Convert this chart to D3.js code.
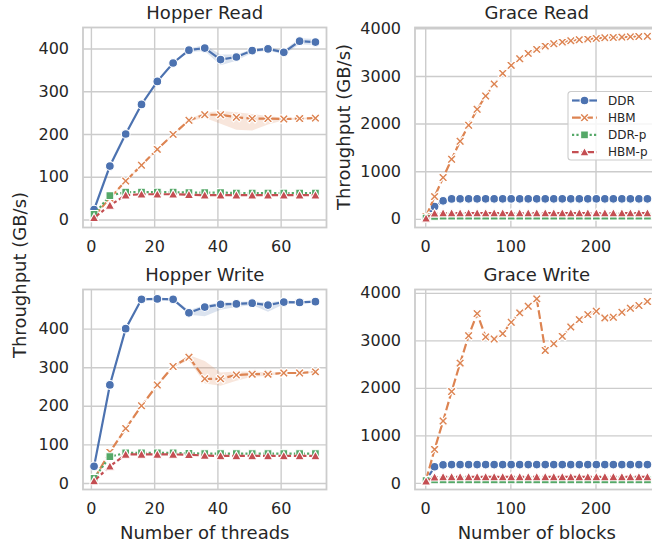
<!DOCTYPE html>
<html>
<head>
<meta charset="utf-8">
<script src="https://cdn.jsdelivr.net/npm/d3@7"></script>
<style>
  body { margin: 0; background: #fff; }
  text { font-family: "DejaVu Sans", sans-serif; fill: #262626; }
</style>
</head>
<body>
<svg id="chart"></svg>
<script>
// x values
var threads = [1, 6, 11, 16, 21, 26, 31, 36, 41, 46, 51, 56, 61, 66, 71];
var blocks = [1, 11, 21, 31, 41, 51, 61, 71, 81, 91, 101, 111, 121, 131, 141, 151, 161, 171, 181, 191, 201, 211, 221, 231, 241, 251, 261];

// Hopper read (GB/s)
var hopperReadDdr = [23, 125, 200, 269, 323, 366, 396, 401, 374, 380, 395, 399, 391, 417, 415];
var hopperReadDdrLo = [21, 123, 198, 267, 321, 364, 392, 394, 361, 371, 390, 395, 386, 410, 408];
var hopperReadDdrHi = [25, 127, 202, 271, 325, 368, 400, 408, 386, 386, 399, 403, 396, 424, 422];
var hopperReadHbm = [8, 50, 90, 127, 164, 199, 232, 245, 245, 239, 236, 236, 235, 236, 237];
var hopperReadHbmLo = [6, 48, 88, 125, 162, 197, 229, 238, 224, 210, 208, 222, 232, 234, 235];
var hopperReadHbmHi = [10, 52, 92, 129, 166, 201, 235, 250, 254, 251, 247, 242, 238, 238, 239];
var hopperReadDdrP = [12, 56, 64, 64, 64, 64, 63, 63, 63, 62, 62, 62, 62, 62, 62];
var hopperReadHbmP = [4, 33, 57, 59, 59, 59, 58, 57, 57, 57, 57, 57, 57, 57, 57];

// Hopper write (GB/s)
var hopperWriteDdr = [43, 254, 400, 476, 477, 476, 441, 456, 463, 464, 466, 461, 469, 468, 470];
var hopperWriteDdrLo = [41, 252, 398, 474, 475, 472, 436, 432, 449, 456, 461, 444, 463, 465, 467];
var hopperWriteDdrHi = [45, 256, 402, 478, 479, 479, 448, 461, 468, 469, 471, 468, 473, 471, 473];
var hopperWriteHbm = [10, 80, 141, 200, 254, 302, 326, 270, 270, 280, 282, 282, 285, 285, 288];
var hopperWriteHbmLo = [8, 78, 139, 198, 252, 300, 318, 258, 252, 265, 275, 278, 283, 283, 286];
var hopperWriteHbmHi = [12, 82, 143, 202, 256, 304, 332, 316, 286, 289, 289, 286, 287, 287, 290];
var hopperWriteDdrP = [12, 68, 78, 78, 78, 78, 77, 76, 76, 76, 76, 76, 76, 76, 76];
var hopperWriteHbmP = [5, 43, 74, 74, 74, 74, 73, 71, 70, 70, 70, 70, 70, 70, 70];

// Grace read (GB/s)
var graceReadDdr = [25, 258, 377, 418, 420, 421, 421, 421, 421, 421, 421, 421, 421, 421, 421, 421, 421, 421, 421, 421, 421, 421, 421, 421, 421, 421, 421];
var graceReadHbm = [50, 467, 866, 1251, 1629, 1964, 2299, 2579, 2830, 3054, 3222, 3361, 3473, 3557, 3627, 3676, 3711, 3738, 3760, 3774, 3788, 3801, 3808, 3815, 3822, 3829, 3832];
var graceReadDdrP = [15, 52, 55, 55, 55, 55, 55, 55, 55, 55, 55, 55, 55, 55, 55, 55, 55, 55, 55, 55, 55, 55, 55, 55, 55, 55, 55];
var graceReadHbmP = [10, 115, 120, 120, 120, 120, 120, 120, 120, 120, 120, 120, 120, 120, 120, 120, 120, 120, 120, 120, 120, 120, 120, 120, 120, 120, 120];

// Grace write (GB/s)
var graceWriteDdr = [50, 340, 380, 385, 386, 386, 386, 386, 386, 386, 386, 386, 386, 386, 386, 386, 386, 386, 386, 386, 386, 386, 386, 386, 386, 386, 386];
var graceWriteHbm = [60, 705, 1303, 1922, 2521, 3098, 3563, 3071, 3029, 3141, 3380, 3578, 3718, 3873, 2788, 2929, 3084, 3282, 3436, 3542, 3612, 3472, 3485, 3590, 3675, 3732, 3817];
var graceWriteDdrP = [50, 62, 65, 65, 65, 65, 65, 65, 65, 65, 65, 65, 65, 65, 65, 65, 65, 65, 65, 65, 65, 65, 65, 65, 65, 65, 65];
var graceWriteHbmP = [36, 120, 125, 125, 125, 125, 125, 125, 125, 125, 125, 125, 125, 125, 125, 125, 125, 125, 125, 125, 125, 125, 125, 125, 125, 125, 125];

// tick labels
var hopperXTicks = [0, 20, 40, 60];
var graceXTicks = [0, 100, 200];
var hopperReadYTicks = [0, 100, 200, 300, 400];
var hopperWriteYTicks = [0, 100, 200, 300, 400];
var graceYTicks = [0, 1000, 2000, 3000, 4000];

var seriesNames = ["DDR", "HBM", "DDR-p", "HBM-p"];

// styling
var colors = ["#4c72b0", "#dd8452", "#55a868", "#c44e52"];
var lw = 2.2;
var dashes = [null, "8.8,3.3", "2.2,2.2", "6.6,2.75,3.3,2.75"];
var markers = [
  "M4.4,0A4.4,4.4 0 1,1 -4.4,0A4.4,4.4 0 1,1 4.4,0Z",
  "M0,-1.8L2.8,-4.6L4.6,-2.8L1.8,0L4.6,2.8L2.8,4.6L0,1.8L-2.8,4.6L-4.6,2.8L-1.8,0L-4.6,-2.8L-2.8,-4.6Z",
  "M-3.9,-3.9H3.9V3.9H-3.9Z",
  "M0,-4.6L4.7,3.8L-4.7,3.8Z"
];

var svgWidth = 652, svgHeight = 546;
var plotW = 243.5, plotH = 200;

var svg = d3.select("#chart")
  .attr("width", svgWidth)
  .attr("height", svgHeight);

var panels = [
  { title: "Hopper Read", left: 83, top: 27.5, x: threads, xDomain: [-2.5, 74.5], yDomain: [-18.7, 449],
    xTicks: hopperXTicks, yTicks: hopperReadYTicks,
    ys: [hopperReadDdr, hopperReadHbm, hopperReadDdrP, hopperReadHbmP],
    bands: [[hopperReadDdrLo, hopperReadDdrHi], [hopperReadHbmLo, hopperReadHbmHi], null, null] },
  { title: "Grace Read", left: 415, top: 27.5, x: blocks, xDomain: [-12, 274], yDomain: [-182, 4017],
    xTicks: graceXTicks, yTicks: graceYTicks,
    ys: [graceReadDdr, graceReadHbm, graceReadDdrP, graceReadHbmP], bands: [null, null, null, null] },
  { title: "Hopper Write", left: 83, top: 289.5, x: threads, xDomain: [-2.5, 74.5], yDomain: [-17, 501.5],
    xTicks: hopperXTicks, yTicks: hopperWriteYTicks,
    ys: [hopperWriteDdr, hopperWriteHbm, hopperWriteDdrP, hopperWriteHbmP],
    bands: [[hopperWriteDdrLo, hopperWriteDdrHi], [hopperWriteHbmLo, hopperWriteHbmHi], null, null] },
  { title: "Grace Write", left: 415, top: 289.5, x: blocks, xDomain: [-12, 274], yDomain: [-139, 4070],
    xTicks: graceXTicks, yTicks: graceYTicks,
    ys: [graceWriteDdr, graceWriteHbm, graceWriteDdrP, graceWriteHbmP], bands: [null, null, null, null] }
];

panels.forEach(function(p, pi) {
  var xScale = d3.scaleLinear().domain(p.xDomain).range([p.left, p.left + plotW]);
  var yScale = d3.scaleLinear().domain(p.yDomain).range([p.top + plotH, p.top]);
  var g = svg.append("g");

  // grid + tick labels
  var xAxis = g.append("g")
    .attr("transform", `translate(0, ${p.top + plotH})`)
    .call(d3.axisBottom(xScale).tickValues(p.xTicks).tickSize(-plotH).tickPadding(13).tickFormat(d3.format("d")));
  var yAxis = g.append("g")
    .attr("transform", `translate(${p.left}, 0)`)
    .call(d3.axisLeft(yScale).tickValues(p.yTicks).tickSize(-plotW).tickPadding(14).tickFormat(d3.format("d")));
  [xAxis, yAxis].forEach(function(a) {
    a.select(".domain").remove();
    a.selectAll("line").attr("stroke", "#cccccc").attr("stroke-width", 1.4);
    a.selectAll("text").attr("font-size", "16px").attr("fill", "#262626").style("font-family", '"DejaVu Sans", sans-serif');
  });

  var clipId = "clip" + pi;
  svg.append("clipPath").attr("id", clipId)
    .append("rect").attr("x", p.left).attr("y", p.top).attr("width", plotW).attr("height", plotH);
  var data = svg.append("g").attr("clip-path", `url(#${clipId})`);

  // confidence bands
  p.ys.forEach(function(vals, si) {
    var band = p.bands[si];
    if (band) {
      var area = d3.area()
        .x((d, i) => xScale(p.x[i]))
        .y0((d, i) => yScale(band[0][i]))
        .y1((d, i) => yScale(band[1][i]));
      data.append("path").datum(vals).attr("d", area)
        .attr("fill", colors[si]).attr("fill-opacity", 0.2).attr("stroke", "none");
    }
  });

  // lines and markers
  p.ys.forEach(function(vals, si) {
    var line = d3.line().x((d, i) => xScale(p.x[i])).y(d => yScale(d));
    data.append("path").datum(vals).attr("d", line)
      .attr("fill", "none").attr("stroke", colors[si]).attr("stroke-width", lw)
      .attr("stroke-dasharray", dashes[si]);
    data.selectAll(null).data(vals).enter().append("path")
      .attr("d", markers[si])
      .attr("transform", (d, i) => `translate(${xScale(p.x[i])}, ${yScale(d)})`)
      .attr("fill", colors[si]).attr("stroke", "#fff").attr("stroke-width", 1.1);
  });

  // frame
  g.append("rect").attr("x", p.left).attr("y", p.top).attr("width", plotW).attr("height", plotH)
    .attr("fill", "none").attr("stroke", "#cccccc").attr("stroke-width", 1.8);

  svg.append("text").attr("x", p.left + plotW / 2).attr("y", p.top - 9)
    .attr("text-anchor", "middle").attr("font-size", "18px").text(p.title);
});

// axis labels
svg.append("text").attr("transform", "translate(20, 275) rotate(-90)").attr("dy", "0.35em")
  .attr("text-anchor", "middle").attr("font-size", "18px").text("Throughput (GB/s)");
svg.append("text").attr("transform", "translate(344, 127) rotate(-90)").attr("dy", "0.35em")
  .attr("text-anchor", "middle").attr("font-size", "18px").text("Throughput (GB/s)");
svg.append("text").attr("x", 83 + plotW / 2).attr("y", 539)
  .attr("text-anchor", "middle").attr("font-size", "18px").text("Number of threads");
svg.append("text").attr("x", 415 + plotW / 2).attr("y", 539)
  .attr("text-anchor", "middle").attr("font-size", "18px").text("Number of blocks");

// legend
var legend = svg.append("g").attr("transform", "translate(568, 91.5)");
legend.append("rect").attr("width", 90).attr("height", 68.5).attr("rx", 3)
  .attr("fill", "#fff").attr("fill-opacity", 0.8).attr("stroke", "#cccccc").attr("stroke-width", 1.1);
seriesNames.forEach(function(name, si) {
  var ly = 9 + si * 17.2;
  legend.append("line").attr("x1", 4).attr("x2", 29).attr("y1", ly).attr("y2", ly)
    .attr("stroke", colors[si]).attr("stroke-width", lw).attr("stroke-dasharray", dashes[si]);
  legend.append("path").attr("d", markers[si]).attr("transform", `translate(16.5, ${ly})`)
    .attr("fill", colors[si]).attr("stroke", "#fff").attr("stroke-width", 1.1);
  legend.append("text").attr("x", 40).attr("y", ly).attr("dy", "0.36em")
    .attr("font-size", "12px").text(name);
});
</script>
</body>
</html>
